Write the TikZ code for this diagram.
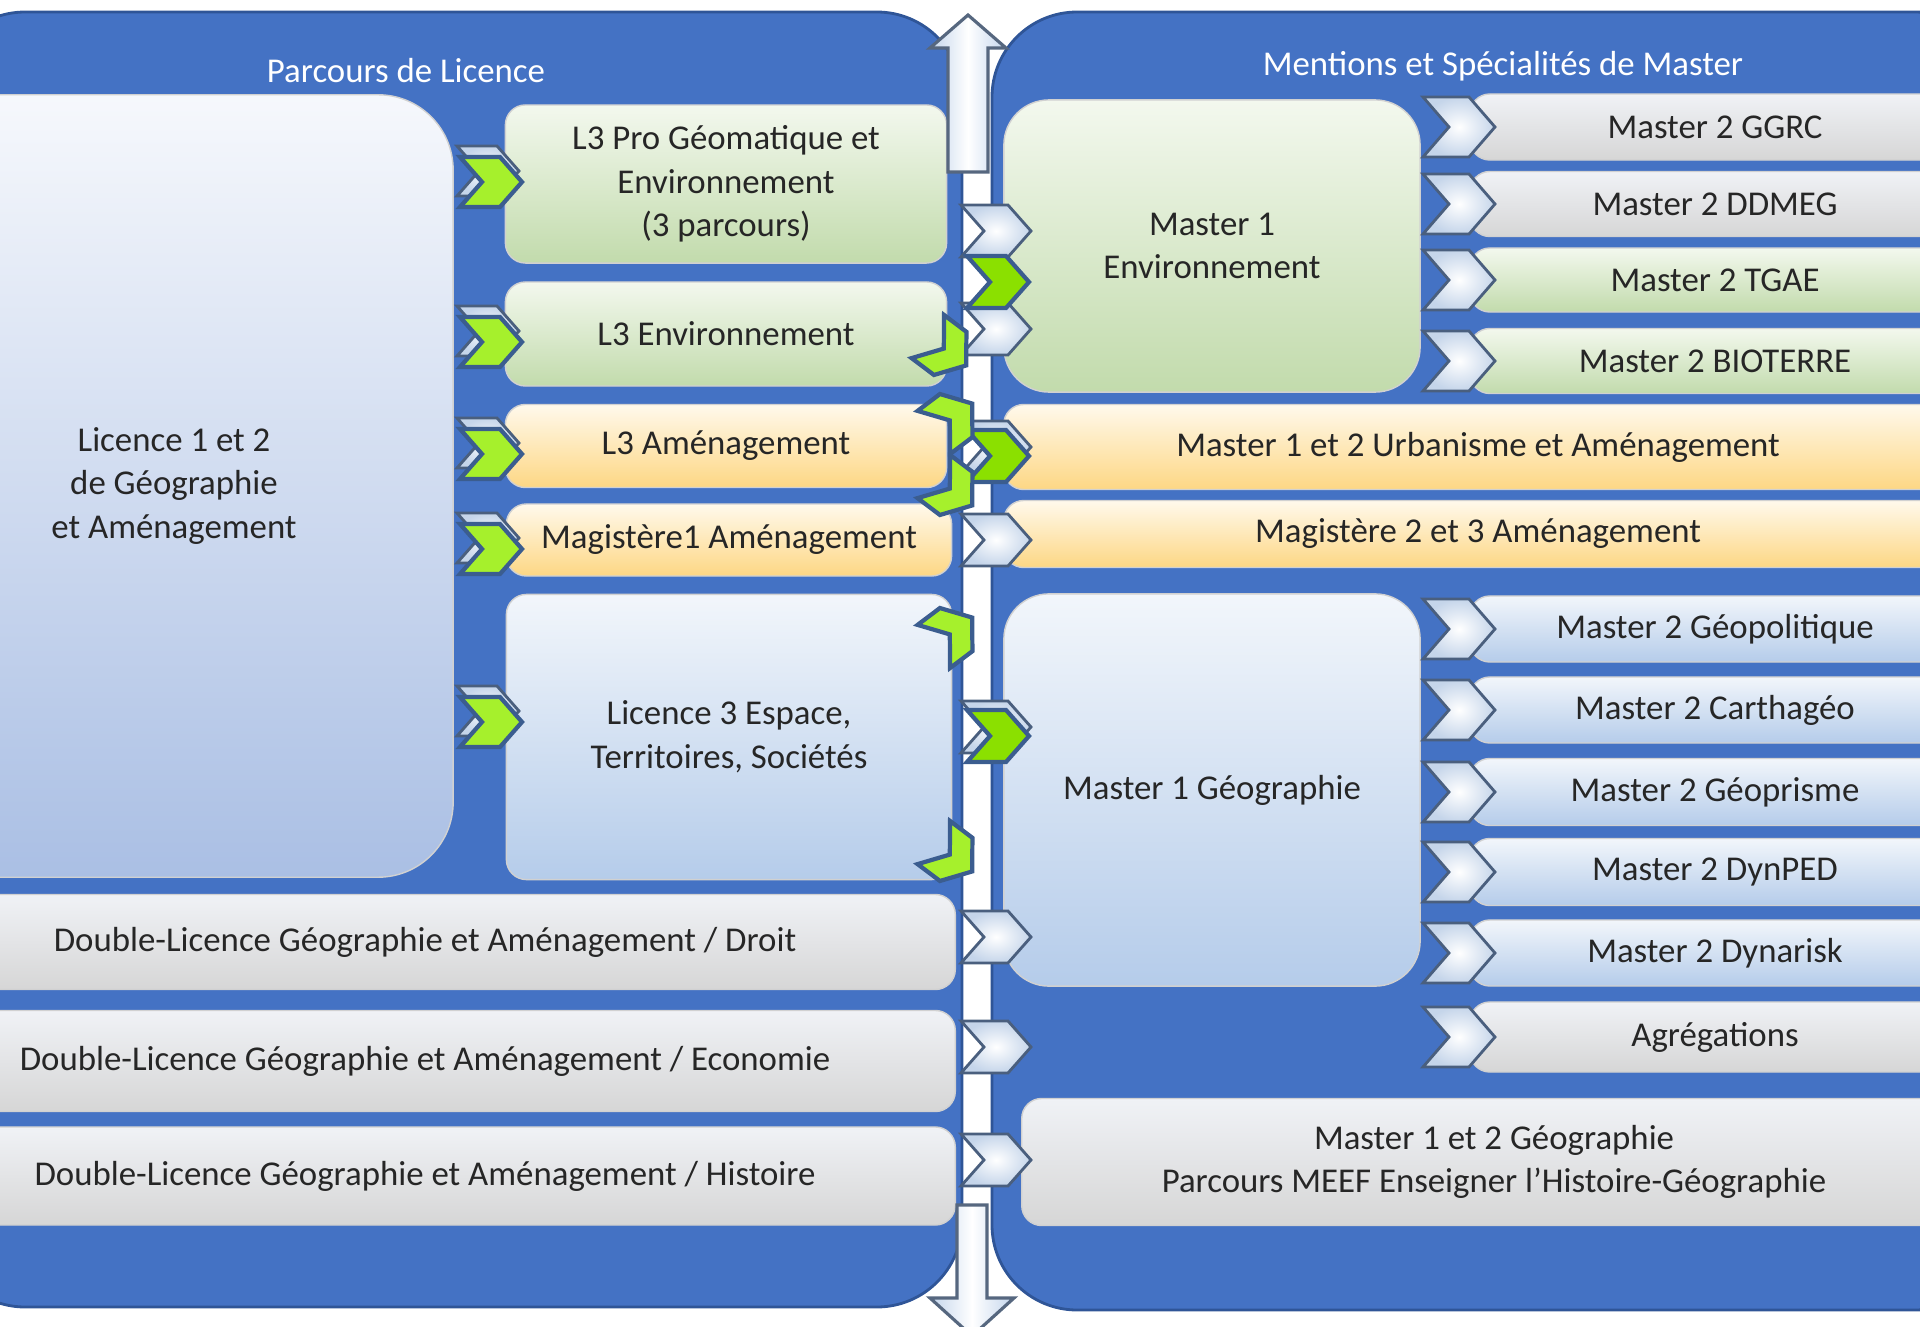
\documentclass[tikz,border=0pt]{standalone}
\usepackage{fontspec}
\setmainfont{Carlito}
\usepackage{tikz}

\definecolor{panelblue}{HTML}{4472C4}
\definecolor{paneledge}{HTML}{2F5597}
\definecolor{chevedge}{HTML}{3B5D8F}
\definecolor{lime}{HTML}{A6F02C}
\definecolor{limedark}{HTML}{8BE000}
\definecolor{txt}{HTML}{262626}

\tikzset{
  panel/.style={fill=panelblue, draw=paneledge, line width=0.8pt, rounded corners=0.85cm},
  title/.style={text=white, font=\fontsize{9.9}{12.4}\selectfont},
  box/.style={draw=white!82!black, line width=0.4pt, text=txt, align=center,
    font=\fontsize{9.9}{12.4}\selectfont, inner sep=0pt, rounded corners=0.2cm},
  greenbox/.style={box, top color={rgb,255:red,243;green,248;blue,238}, bottom color={rgb,255:red,194;green,219;blue,172}},
  orangebox/.style={box, top color={rgb,255:red,255;green,249;blue,236}, bottom color={rgb,255:red,253;green,215;blue,132}},
  bluebox/.style={box, top color={rgb,255:red,242;green,246;blue,251}, bottom color={rgb,255:red,181;green,204;blue,234}},
  graybox/.style={box, top color={rgb,255:red,240;green,242;blue,246}, bottom color={rgb,255:red,214;green,214;blue,214}},
  whitechev/.style={inner color=white, outer color={rgb,255:red,197;green,213;blue,234}, draw={rgb,255:red,74;green,95;blue,126}, line width=0.8pt},
  greenchev/.style={fill=lime, draw=chevedge, line width=1.2pt},
  darkchev/.style={fill=limedark, draw=chevedge, line width=1.2pt},
  bigarrow/.style={left color={rgb,255:red,195;green,213;blue,236}, right color={rgb,255:red,195;green,213;blue,236}, middle color=white, draw={rgb,255:red,86;green,103;blue,127}, line width=0.9pt},
  pics/chev/.style n args={3}{code={
    \path[pic actions] ({-#1/2},{-#2/2}) -- ({#1/2-#3},{-#2/2}) -- ({#1/2},0)
      -- ({#1/2-#3},{#2/2}) -- ({-#1/2},{#2/2}) -- ({-#1/2+#3},0) -- cycle;
  }},
}

\begin{document}
\begin{tikzpicture}[x=0.01cm, y=-0.01cm]
   \useasboundingbox (0,0) rectangle (1920,1327);
   \clip (0,0) rectangle (1920,1327);

   % panels
   \path[panel] (-60,12) rectangle (962,1307);
   \path[panel] (992,12) rectangle (2000,1310);

   \path (406,71) node[title] (titleL) {Parcours de Licence};
   \path (1503,66) node[title] (titleR) {Mentions et Spécialités de Master};

   % licence side
   \path (174,486) node[box, top color={rgb,255:red,246;green,248;blue,252}, bottom color={rgb,255:red,170;green,191;blue,228}, rounded corners=0.75cm, minimum width=5.58cm, minimum height=7.82cm] (lic12)
     {Licence 1 et 2\\de Géographie\\et Aménagement};
   \path (726,184) node[greenbox, minimum width=4.41cm, minimum height=1.58cm] (l3pro)
     {L3 Pro Géomatique et\\Environnement\\(3 parcours)};
   \path (726,334) node[greenbox, minimum width=4.41cm, minimum height=1.04cm] (l3env) {L3 Environnement};
   \path (726,446) node[orangebox, minimum width=4.41cm, minimum height=0.83cm] (l3amen) {L3 Aménagement};
   \path (729,540) node[orangebox, minimum width=4.45cm, minimum height=0.72cm] (mag1) {Magistère1 Aménagement};
   \path (729,737) node[bluebox, minimum width=4.45cm, minimum height=2.85cm] (l3ets)
     {Licence 3 Espace,\\Territoires, Sociétés};
   \path (425,942) node[graybox, minimum width=10.6cm, minimum height=0.95cm] (dlDroit)
     {Double-Licence Géographie et Aménagement / Droit};
   \path (425,1061) node[graybox, minimum width=10.6cm, minimum height=1.01cm] (dlEco)
     {Double-Licence Géographie et Aménagement / Economie};
   \path (425,1176) node[graybox, minimum width=10.6cm, minimum height=0.98cm] (dlHist)
     {Double-Licence Géographie et Aménagement / Histoire};

   % master side
   \path (1212,246) node[greenbox, rounded corners=0.45cm, minimum width=4.16cm, minimum height=2.92cm] (m1env)
     {Master 1\\Environnement};
   \path (1715,127) node[graybox, minimum width=4.9cm, minimum height=0.66cm] (ggrc) {Master 2 GGRC};
   \path (1715,204) node[graybox, minimum width=4.9cm, minimum height=0.65cm] (ddmeg) {Master 2 DDMEG};
   \path (1715,280) node[greenbox, minimum width=4.9cm, minimum height=0.64cm] (tgae) {Master 2 TGAE};
   \path (1715,361) node[greenbox, minimum width=4.9cm, minimum height=0.65cm] (bioterre) {Master 2 BIOTERRE};
   \path (1478,447) node[orangebox, minimum width=9.48cm, minimum height=0.85cm] (urba)
     {Master 1 et 2 Urbanisme et Aménagement};
   \path (1478,534) node[orangebox, minimum width=9.48cm, minimum height=0.67cm] (mag23)
     {Magistère 2 et 3 Aménagement};
   \path (1212,790) node[bluebox, rounded corners=0.45cm, minimum width=4.16cm, minimum height=3.92cm] (m1geo)
     {Master 1 Géographie};
   \path (1715,629) node[bluebox, minimum width=4.9cm, minimum height=0.66cm] (geopol) {Master 2 Géopolitique};
   \path (1715,710) node[bluebox, minimum width=4.9cm, minimum height=0.66cm] (cartha) {Master 2 Carthagéo};
   \path (1715,792) node[bluebox, minimum width=4.9cm, minimum height=0.67cm] (geopri) {Master 2 Géoprisme};
   \path (1715,872) node[bluebox, minimum width=4.9cm, minimum height=0.67cm] (dynped) {Master 2 DynPED};
   \path (1715,953) node[bluebox, minimum width=4.9cm, minimum height=0.66cm] (dynar) {Master 2 Dynarisk};
   \path (1715,1037) node[graybox, minimum width=4.9cm, minimum height=0.70cm] (agreg) {Agrégations};
   \path (1494,1162) node[graybox, minimum width=9.44cm, minimum height=1.27cm] (meef)
     {Master 1 et 2 Géographie\\Parcours MEEF Enseigner l’Histoire-Géographie};

   % chevrons, licence side
   \foreach \y in {171,331,443,538,711}
     \pic[whitechev] at (488,\y) {chev={62}{50}{22}};
   \foreach \y in {182,342,454,549,722}
     \pic[greenchev] at (491,\y) {chev={62}{50}{22}};

   % chevrons on the strip
   \foreach \y in {231,329,447,540,727,937,1047,1160}
     \pic[whitechev] at (996,\y) {chev={70}{52}{23}};
   \foreach \y in {282,456,736}
     \pic[darkchev] at (998,\y) {chev={62}{52}{23}};
   \pic[greenchev, rotate=-37] at (947,351) {chev={48}{54}{20}};
   \pic[greenchev, rotate=37] at (953,418) {chev={48}{54}{20}};
   \pic[greenchev, rotate=-37] at (953,491) {chev={48}{54}{20}};
   \pic[greenchev, rotate=37] at (953,632) {chev={48}{54}{20}};
   \pic[greenchev, rotate=-37] at (953,857) {chev={48}{54}{20}};

   % chevrons, master 2
   \foreach \y in {127,204,280,361,629,710,792,872,953,1037}
     \pic[whitechev] at (1459,\y) {chev={72}{60}{26}};

   % up and down arrows
   \path[bigarrow] (948,172) -- (948,48) -- (930,48) -- (968,15) -- (1006,48) -- (988,48) -- (988,172) -- cycle;
   \path[bigarrow] (957,1205) -- (957,1298) -- (930,1298) -- (972,1336) -- (1014,1298) -- (987,1298) -- (987,1205) -- cycle;
\end{tikzpicture}
\end{document}
